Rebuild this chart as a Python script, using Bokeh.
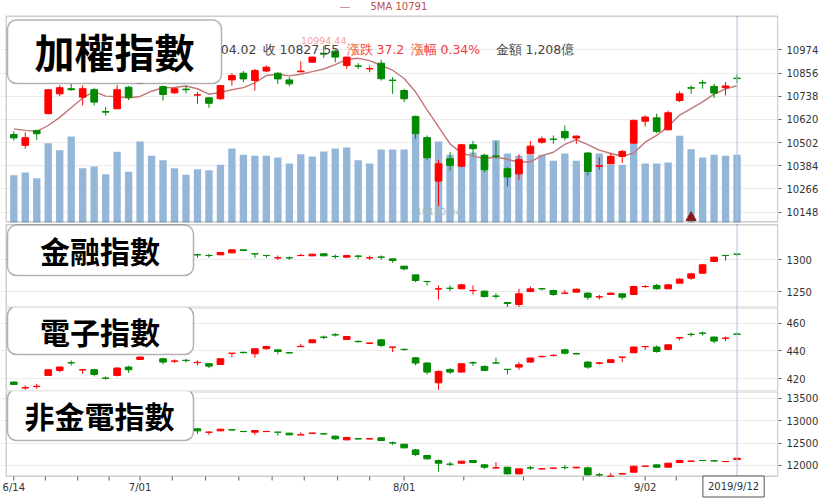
from bokeh.plotting import figure
from bokeh.models import ColumnDataSource, Range1d, FixedTicker, Label, BoxAnnotation
from bokeh.layouts import column
from bokeh.core.properties import value
from bokeh.embed import file_html
from bokeh.resources import INLINE

# ---------------- data ----------------
june = [14, 17, 18, 19, 20, 21, 24, 25, 26, 27, 28]
july = [1, 2, 3, 4, 5, 8, 9, 10, 11, 12, 15, 16, 17, 18, 19, 22, 23, 24, 25, 26, 29, 30, 31]
aug = [1, 2, 5, 6, 7, 8, 12, 13, 14, 15, 16, 19, 20, 21, 22, 23, 26, 27, 28, 29, 30]
sep = [2, 3, 4, 5, 6, 9, 10, 11, 12]
dates = [(6, d) for d in june] + [(7, d) for d in july] + [(8, d) for d in aug] + [(9, d) for d in sep]
year = 2019

taiex_open = [10543, 10488, 10564, 10649, 10750, 10776, 10733, 10771, 10660, 10674,
              10784, 10805, 10813, 10787, 10755, 10774, 10744, 10730, 10725, 10821,
              10855, 10818, 10866, 10855, 10821, 10862, 10911, 10955, 10967, 10894,
              10892, 10877, 10906, 10820, 10767, 10635, 10527, 10306, 10420, 10382,
              10491, 10437, 10434, 10369, 10343, 10445, 10504, 10520, 10559, 10525,
              10449, 10382, 10394, 10432, 10499, 10611, 10628, 10567, 10716, 10781,
              10807, 10788, 10781, 10830]
taiex_high = [10560, 10555, 10566, 10775, 10793, 10800, 10793, 10781, 10682, 10795,
              10790, 10832, 10858, 10792, 10781, 10792, 10760, 10733, 10793, 10855,
              10866, 10877, 10894, 10860, 10835, 10916, 10940, 10994.44, 10974, 10937,
              10906, 10894, 10923, 10835, 10776, 10640, 10538, 10415, 10454, 10496,
              10510, 10445, 10510, 10377, 10442, 10510, 10533, 10538, 10589, 10538,
              10454, 10428, 10449, 10465, 10619, 10640, 10649, 10665, 10764, 10793,
              10821, 10801, 10810, 10850]
taiex_low = [10513, 10471, 10516, 10649, 10738, 10766, 10691, 10691, 10640, 10674,
             10718, 10803, 10806, 10716, 10750, 10752, 10700, 10679, 10720, 10792,
             10810, 10767, 10860, 10801, 10788, 10860, 10908, 10933, 10911, 10877,
             10877, 10860, 10818, 10750, 10708, 10521, 10415, 10180.04, 10360, 10377,
             10437, 10352, 10420, 10279, 10313, 10442, 10496, 10496, 10513, 10496,
             10335, 10364, 10394, 10398, 10499, 10584, 10550, 10564, 10708, 10750,
             10776, 10730, 10742, 10804.02]
taiex_close = [10526, 10527, 10547, 10771, 10781, 10771, 10776, 10708, 10657, 10771,
               10733, 10815, 10841, 10747, 10776, 10771, 10745, 10702, 10792, 10843,
               10826, 10869, 10886, 10826, 10801, 10866, 10937, 10952, 10937, 10937,
               10891, 10879, 10827, 10818, 10725, 10547, 10425, 10394, 10386, 10491,
               10471, 10364, 10432, 10327, 10415, 10484, 10521, 10518, 10527, 10535,
               10355, 10384, 10432, 10457, 10615, 10632, 10559, 10654, 10750, 10779,
               10805, 10754, 10790.35, 10827.55]
ma_seed = [10567, 10572, 10621, 10574]  # closes of the 4 sessions before 6/14
taiex_amount = [845, 893, 791, 1416, 1291, 1535, 970, 1000, 863, 1261,
                904, 1446, 1190, 1113, 970, 851, 952, 934, 1029, 1321,
                1208, 1190, 1190, 1160, 1053, 1220, 1178, 1267, 1321, 1339,
                1113, 1053, 1303, 1303, 1303, 1577, 1517, 1446, 1208, 1369,
                1250, 1208, 1470, 1232, 1190, 1208, 1208, 1101, 1232, 1101,
                1232, 1232, 1029, 1029, 1410, 1053, 1053, 1071, 1547, 1309,
                1160, 1208, 1190, 1208]
signal_days = [59]

fin_open = [1296, 1294, 1296, 1300, 1306, 1309, 1307, 1309, 1303, 1302,
            1308, 1306, 1311, 1313, 1309, 1310, 1307.4, 1306.3, 1307.3, 1310.4,
            1315.1, 1308.9, 1306.3, 1302.5, 1302.7, 1306.1, 1305.7, 1308.9, 1304.8, 1303.6,
            1305.3, 1302.5, 1303.8, 1301.0, 1289.6, 1276.0, 1265.6, 1253.9, 1255.1, 1254.2,
            1251.4, 1250.5, 1242.8, 1232.8, 1229.7, 1250.0, 1254.3, 1251.6, 1247.3, 1249.0,
            1247.4, 1241.5, 1245.3, 1246.4, 1245.3, 1257.7, 1259.4, 1254.2, 1263.0, 1270.8,
            1278.6, 1296.9, 1306.3, 1308.4]
fin_high = [1298, 1297, 1299, 1307, 1310, 1312, 1311, 1310, 1305, 1309,
            1310, 1312, 1315, 1314, 1311, 1311, 1308.9, 1308.9, 1311.4, 1315.6,
            1315.4, 1308.9, 1306.3, 1306.2, 1304.7, 1308.9, 1309.0, 1309.2, 1307.8, 1306.5,
            1307.3, 1306.2, 1306.2, 1301.0, 1289.6, 1276.0, 1265.6, 1259.4, 1259.4, 1261.9,
            1259.4, 1251.6, 1247.4, 1232.8, 1254.2, 1257.8, 1255.2, 1252.6, 1252.6, 1254.7,
            1249.0, 1244.8, 1248.4, 1247.4, 1258.9, 1259.4, 1261.9, 1261.9, 1270.8, 1279.2,
            1293.3, 1304.7, 1307.3, 1309.9]
fin_low = [1292, 1290, 1293, 1299, 1304, 1305, 1303, 1302, 1299, 1301,
           1304, 1305, 1309, 1308, 1306, 1306, 1302.6, 1302.6, 1307.0, 1310.0,
           1313.8, 1302.6, 1302.6, 1299.5, 1299.5, 1306.0, 1305.5, 1305.5, 1301.0, 1303.0,
           1301.0, 1299.5, 1299.5, 1294.8, 1283.0, 1264.6, 1259.4, 1237.5, 1250.5, 1254.2,
           1245.3, 1240.6, 1238.9, 1224.5, 1224.5, 1249.0, 1251.6, 1243.2, 1247.2, 1248.4,
           1237.0, 1237.5, 1244.8, 1237.0, 1245.3, 1255.7, 1253.1, 1254.2, 1263.0, 1268.2,
           1277.6, 1296.0, 1298.4, 1305.7]
fin_close = [1294, 1296, 1298, 1306, 1309, 1307, 1309, 1304, 1302, 1308,
             1305, 1311, 1313, 1309, 1310, 1308, 1307.3, 1306.2, 1310.9, 1315.1,
             1314.1, 1308.8, 1306.2, 1302.7, 1302.5, 1306.3, 1308.3, 1305.7, 1304.6, 1306.2,
             1305.1, 1302.7, 1303.6, 1298.4, 1285.4, 1267.2, 1265.5, 1254.3, 1255.0, 1260.4,
             1251.6, 1242.2, 1242.7, 1231.3, 1246.4, 1254.2, 1254.2, 1245.3, 1247.4, 1253.6,
             1241.1, 1241.7, 1247.4, 1241.1, 1257.8, 1257.9, 1254.2, 1260.4, 1269.3, 1277.6,
             1291.7, 1303.6, 1306.2, 1308.3]

elec_open = [417.6, 413.4, 414.4, 422.4, 426.0, 431.6, 426.4, 426.5, 420.5, 422.4,
             428.4, 433.9, 439.0, 434.4, 432.6, 433.3, 431.6, 430.8, 430.3, 438.3,
             439.0, 438.0, 441.6, 440.8, 438.8, 443.1, 445.9, 450.0, 451.7, 448.3,
             446.9, 445.5, 448.0, 442.7, 441.2, 435.1, 431.3, 417.1, 426.7, 424.8,
             431.6, 428.9, 431.4, 426.8, 428.4, 432.0, 435.9, 436.7, 440.8, 438.1,
             432.0, 431.2, 431.7, 435.5, 438.7, 443.1, 442.8, 441.1, 449.4, 452.0,
             452.9, 450.0, 449.1, 452.2]
elec_high = [418.1, 415.2, 416.4, 426.5, 428.9, 433.2, 426.5, 427.2, 421.7, 428.4,
             429.4, 436.0, 441.5, 435.1, 433.9, 434.4, 433.2, 431.3, 434.6, 438.4,
             439.6, 441.6, 443.7, 440.8, 439.4, 445.2, 448.3, 451.1, 452.8, 450.7,
             447.6, 446.4, 448.7, 442.8, 441.6, 435.6, 432.0, 426.0, 427.7, 430.8,
             432.5, 429.6, 435.1, 426.8, 432.0, 435.1, 436.6, 437.5, 441.6, 438.7,
             432.7, 432.0, 433.9, 435.6, 443.2, 443.2, 444.0, 444.9, 449.5, 453.3,
             454.0, 450.4, 450.4, 453.3]
elec_low = [415.7, 412.1, 412.8, 422.4, 424.8, 429.6, 423.6, 421.7, 419.3, 421.7,
            424.3, 433.5, 438.6, 430.3, 431.5, 431.8, 429.6, 427.7, 430.1, 435.6,
            438.2, 435.1, 441.1, 437.5, 438.0, 443.0, 445.6, 448.6, 450.4, 447.8,
            446.0, 444.9, 442.8, 439.2, 440.2, 429.6, 423.1, 412.1, 423.6, 424.8,
            429.1, 425.5, 431.2, 423.1, 426.4, 431.6, 435.3, 436.0, 437.5, 437.5,
            427.2, 430.3, 431.5, 432.0, 438.7, 440.8, 438.7, 441.1, 447.5, 450.4,
            451.1, 445.6, 447.1, 451.6]
elec_close = [415.9, 413.6, 414.6, 426.5, 428.4, 431.4, 426.5, 423.1, 420.4, 427.7,
              426.5, 435.6, 440.5, 432.0, 432.8, 433.1, 431.8, 429.1, 434.4, 438.4,
              438.8, 441.6, 443.2, 439.6, 438.6, 443.3, 448.0, 449.8, 451.5, 450.4,
              446.7, 445.7, 444.0, 442.8, 441.0, 431.3, 424.8, 425.3, 424.8, 430.8,
              431.4, 426.0, 431.3, 426.7, 430.1, 434.9, 436.1, 436.9, 438.4, 437.9,
              428.4, 431.4, 433.7, 435.6, 442.8, 443.2, 439.6, 444.4, 449.5, 451.8,
              452.7, 447.1, 449.3, 452.0]

nfe_open = [12820, 12830, 12800, 12825, 12875, 12890, 12870, 12885, 12850, 12835,
            12870, 12850, 12875, 12890, 12860, 12865, 12816, 12741, 12772, 12795,
            12758, 12742, 12756, 12743, 12720, 12682, 12718, 12707, 12653, 12571,
            12595, 12593, 12616, 12505, 12475, 12348, 12222, 12111, 12030, 12051,
            12111, 12014, 11946, 11962, 11813, 11948, 11924, 11939, 11955, 11947,
            11947, 11792, 11760, 11810, 11850, 11983, 12014, 11962, 12066, 12095,
            12112, 12104, 12087, 12133]
nfe_high = [12850, 12840, 12835, 12880, 12900, 12905, 12895, 12890, 12860, 12880,
            12880, 12880, 12900, 12895, 12870, 12870, 12831, 12764, 12816, 12809,
            12772, 12779, 12772, 12743, 12728, 12742, 12728, 12712, 12668, 12630,
            12608, 12608, 12623, 12534, 12482, 12370, 12230, 12133, 12088, 12103,
            12118, 12036, 12073, 11970, 11932, 11992, 11940, 11955, 12014, 11970,
            11977, 11836, 11836, 11836, 11992, 12000, 12022, 12059, 12118, 12111,
            12125, 12118, 12103, 12170]
nfe_low = [12800, 12790, 12795, 12820, 12860, 12860, 12850, 12840, 12820, 12830,
           12845, 12845, 12860, 12850, 12840, 12820, 12705, 12683, 12764, 12779,
           12742, 12683, 12742, 12668, 12675, 12675, 12712, 12698, 12572, 12564,
           12579, 12579, 12549, 12460, 12385, 12207, 12133, 11865, 11984, 12044,
           12059, 11925, 11940, 11806, 11806, 11903, 11910, 11925, 11910, 11940,
           11776, 11754, 11754, 11806, 11850, 11970, 11955, 11962, 12059, 12088,
           12103, 12096, 12073, 12125]
nfe_close = [12830, 12800, 12825, 12875, 12890, 12870, 12885, 12850, 12835, 12870,
             12850, 12875, 12890, 12860, 12865, 12830, 12772, 12743, 12809, 12793,
             12756, 12779, 12758, 12742, 12683, 12684, 12722, 12703, 12594, 12623,
             12593, 12595, 12556, 12503, 12393, 12244, 12148, 12051, 12028, 12096,
             12066, 11962, 11948, 11813, 11925, 11946, 11926, 11941, 11953, 11962,
             11791, 11790, 11762, 11816, 11984, 11985, 11962, 12051, 12111, 12097,
             12110, 12102, 12089, 12163]

taiex_ticks = [10148, 10266, 10384, 10502, 10620, 10738, 10856, 10974]
fin_ticks = [1250, 1300]
elec_ticks = [420, 440, 460]
nfe_ticks = [12000, 12500, 13000, 13500]
minor_x_ticks = [2.75, 5.57, 8.3, 13.8, 16.7, 19.6, 22.5, 25.3, 28.2, 31.0,
                 39.2, 44.4, 49.6, 57.7, 60.5, 63.3]

# ---------------- layout constants (page pixels) ----------------
RED = "#ff0000"
GREEN = "#008a00"
VOLC = "#94b7d9"
FRAME = "#5e5e5e"
CURSOR = "#a9c4e0"
FL = 0.0          # page x of the drawing frame
BL = 5.0          # page x of the visible panel border (left)
FR = 778.0        # page x of frame right / panel border right
X0 = 13.3         # page x of the first session
PX = 11.48        # px per session
FW = int(FR - FL)
XS = (FL - X0) / PX
XE = XS + FW / PX
VOL_PER_PX = 17.85
VOL_BASE = 222.0  # page y where volume bars stand

# (frame top on page, frame height, anchor value, anchor page y, value per px)
P1 = (0, 223, 10974, 49.33, 5.088)
P2 = (223, 84, 1300, 259.0, 1.5625)
P3 = (307, 84, 460, 322.67, 0.7194)
P4 = (391, 107, 13500, 397.67, 22.28)


def yr(P):
    ft, fh, a, apx, upp = P
    top = a + (apx - ft) * upp
    return top - fh * upp, top


def dx(px):
    return XS + (px - FL) / PX


def dy(P, py):
    ft, fh, a, apx, upp = P
    top = a + (apx - ft) * upp
    return top - (py - ft) * upp


n = len(dates)
idx = list(range(n))
xr = Range1d(XS, XE)


def make_fig(P, ticks):
    lo, hi = yr(P)
    p = figure(frame_width=FW, frame_height=P[1], x_range=xr, y_range=Range1d(lo, hi),
               y_axis_location="right", x_axis_location=None,
               toolbar_location=None, output_backend="svg",
               min_border_left=0, min_border_right=0,
               min_border_top=0, min_border_bottom=0)
    p.background_fill_color = "white"
    p.border_fill_color = "white"
    p.outline_line_color = None
    p.xgrid.visible = False
    p.ygrid.ticker = FixedTicker(ticks=ticks)
    p.ygrid.grid_line_color = "#ececec"
    ax = p.yaxis[0]
    ax.ticker = FixedTicker(ticks=ticks, minor_ticks=[])
    ax.axis_line_color = None
    ax.major_tick_line_color = FRAME
    ax.major_tick_in = 0
    ax.major_tick_out = 3
    ax.minor_tick_line_color = None
    ax.major_label_standoff = 5
    ax.major_label_text_font = "DejaVu Sans"
    ax.major_label_text_font_size = "10px"
    ax.major_label_text_color = "#333333"
    return p


def panel_border(p, P, top_px, bottom_px):
    p.add_layout(BoxAnnotation(left=dx(BL + 0.75), right=dx(FR - 0.75),
                               top=dy(P, top_px + 0.75), bottom=dy(P, bottom_px - 0.75),
                               fill_color=None, fill_alpha=0, line_color=FRAME, line_width=1.5))


def draw_candles(p, o, h, l, c):
    col = [RED if cc >= oo else GREEN for oo, cc in zip(o, c)]
    src = ColumnDataSource(dict(x=idx, h=h, l=l,
                                top=[max(a, b) for a, b in zip(o, c)],
                                bot=[min(a, b) for a, b in zip(o, c)], col=col))
    p.segment(x0="x", y0="l", x1="x", y1="h", line_color="col", line_width=1, source=src)
    p.vbar(x="x", width=0.58, top="top", bottom="bot", fill_color="col",
           line_color="col", line_width=1, source=src)


def cursor(p, P, top_px, bottom_px):
    p.segment(x0=[n - 1], x1=[n - 1], y0=[dy(P, top_px)], y1=[dy(P, bottom_px)],
              line_color=CURSOR, line_width=1)


def title_box(p, P, x1, x2, y1, y2, text, size, cx, cy):
    p.add_layout(BoxAnnotation(left=dx(x1), right=dx(x2), top=dy(P, y1), bottom=dy(P, y2),
                               fill_color="white", fill_alpha=1.0, line_color="black",
                               line_width=1.5, border_radius=9))
    p.add_layout(Label(x=dx(cx), y=dy(P, cy), text=text, text_font="Noto Sans CJK TC",
                       text_font_style="bold", text_font_size=size, text_color="black",
                       text_align="center", text_baseline="middle"))


# ---------------- panel 1: TAIEX ----------------
p1 = make_fig(P1, taiex_ticks)
p1.extra_y_ranges = {"vol": Range1d(-(P1[0] + P1[1] - VOL_BASE) * VOL_PER_PX,
                                    (VOL_BASE - P1[0]) * VOL_PER_PX)}
p1.vbar(x=idx, top=taiex_amount, width=0.64, bottom=0, y_range_name="vol",
        fill_color=VOLC, line_color=None)
closes_ext = ma_seed + taiex_close
ma5 = [sum(closes_ext[i:i + 5]) / 5 for i in range(n)]
p1.line(idx, ma5, line_color="#c27777", line_width=1.4)
draw_candles(p1, taiex_open, taiex_high, taiex_low, taiex_close)
p1.scatter(x=signal_days, y=[5 * VOL_PER_PX] * len(signal_days), marker="triangle",
           size=10, fill_color="#8b1a1a", line_color="#8b1a1a", y_range_name="vol")

imax = max(idx, key=lambda i: taiex_high[i])
imin = min(idx, key=lambda i: taiex_low[i])
p1.text(x=[imax], y=[taiex_high[imax]], text=[f"{taiex_high[imax]:.2f}"],
        text_font=value("DejaVu Sans"), text_font_size=value("9.5px"), text_color="#f2a0a0",
        text_align="center", text_baseline="bottom", y_offset=-2)
p1.text(x=[imin], y=[taiex_low[imin]], text=[f"{taiex_low[imin]:.2f}"],
        text_font=value("DejaVu Sans"), text_font_size=value("9.5px"), text_color="#a3baba",
        text_align="center", text_baseline="top", y_offset=2)
cursor(p1, P1, 15, 223)
panel_border(p1, P1, 15, 222)

chg = taiex_close[-1] - taiex_close[-2]
pct = chg / taiex_close[-2] * 100
hy = dy(P1, 49)
hdr = dict(text_font="DejaVu Sans", text_font_size="12.5px", text_baseline="middle")
p1.add_layout(Label(x=dx(256), y=hy, text=f"低 {taiex_low[-1]:.2f}", text_align="right",
                    text_color="#444444", **hdr))
p1.add_layout(Label(x=dx(262), y=hy, text=f"收 {taiex_close[-1]:.2f}", text_color="#444444", **hdr))
p1.add_layout(Label(x=dx(346), y=hy, text=f"漲跌 {chg:.1f}", text_color="#ee3b3b", **hdr))
p1.add_layout(Label(x=dx(410), y=hy, text=f"漲幅  {pct:.2f}%", text_color="#ee3b3b", **hdr))
p1.add_layout(Label(x=dx(495), y=hy, text=f"金額 {taiex_amount[-1]:,}億", text_color="#444444", **hdr))

ly = dy(P1, 6)
p1.add_layout(Label(x=dx(339), y=ly, text="—", text_font="DejaVu Sans", text_font_size="11px",
                    text_color="#c27777", text_baseline="middle"))
p1.add_layout(Label(x=dx(370), y=ly, text=f"5MA {ma5[-1]:.0f}", text_font="DejaVu Sans",
                    text_font_size="10px", text_color="#b85050", text_baseline="middle"))

title_box(p1, P1, 7, 221, 19.5, 83, "加權指數", "40px", 114, 50)

# ---------------- panel 2: financials ----------------
p2 = make_fig(P2, fin_ticks)
draw_candles(p2, fin_open, fin_high, fin_low, fin_close)
cursor(p2, P2, 223, 307)
panel_border(p2, P2, 223.5, 307.5)
title_box(p2, P2, 7, 193, 224.6, 275, "金融指數", "30px", 99.5, 249)

# ---------------- panel 3: electronics ----------------
p3 = make_fig(P3, elec_ticks)
draw_candles(p3, elec_open, elec_high, elec_low, elec_close)
cursor(p3, P3, 307, 391)
panel_border(p3, P3, 306.5, 391.5)
title_box(p3, P3, 7, 193, 306, 354, "電子指數", "30px", 99.5, 330)

# ---------------- panel 4: non-finance non-electronics + date axis ----------------
p4 = make_fig(P4, nfe_ticks)
draw_candles(p4, nfe_open, nfe_high, nfe_low, nfe_close)
cursor(p4, P4, 391, 479)
panel_border(p4, P4, 390.5, 476.5)

major_x = [0] + [i for i in range(1, n) if dates[i][0] != dates[i - 1][0]]
all_ticks = sorted(major_x + minor_x_ticks)
p4.segment(x0=all_ticks, x1=all_ticks, y0=[dy(P4, 476)] * len(all_ticks),
           y1=[dy(P4, 480)] * len(all_ticks), line_color=FRAME, line_width=1)
p4.text(x=major_x, y=[dy(P4, 487)] * len(major_x),
        text=[f"{dates[i][0]}/{dates[i][1]:02d}" for i in major_x],
        text_font=value("DejaVu Sans"), text_font_size=value("10px"), text_color="#333333",
        text_align="center", text_baseline="middle")

title_box(p4, P4, 7, 193, 389, 440, "非金電指數", "30px", 99, 414)

m, d = dates[-1]
p4.add_layout(Label(x=n - 1, y=dy(P4, 486), x_offset=-3.5, text=f"{year}/{m}/{d}",
                    text_font="DejaVu Sans", text_font_size="10px", text_color="#333333",
                    text_align="center", text_baseline="middle",
                    background_fill_color="white", border_line_color="#555555",
                    padding=5))

layout = column(p1, p2, p3, p4, spacing=0)
open("out.html", "w").write(file_html(layout, INLINE))
